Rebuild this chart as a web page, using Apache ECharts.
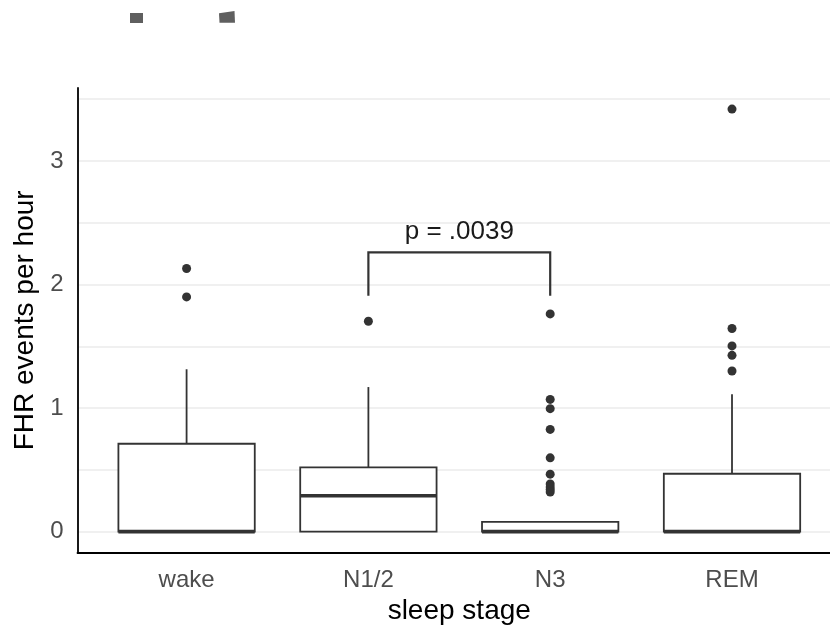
<!DOCTYPE html>
<html><head><meta charset="utf-8">
<script src="https://cdn.jsdelivr.net/npm/echarts@6/dist/echarts.min.js"></script>
<style>html,body{margin:0;padding:0;background:#fff}#c{width:830px;height:632px}</style>
</head><body><div id="c"></div>
<script>
const categories = ['wake', 'N1/2', 'N3', 'REM'];
const whiskerLow = [0, 0, 0, 0];
const q1 = [0, 0, 0, 0];
const median = [0, 0.29, 0, 0];
const q3 = [0.711, 0.519, 0.078, 0.468];
const whiskerHigh = [1.314, 1.17, 0.078, 1.111];
const outliers = [
  [2.13, 1.90],
  [1.703],
  [1.762, 1.07, 0.995, 0.827, 0.597, 0.465, 0.385, 0.36, 0.34, 0.32],
  [3.42, 1.644, 1.503, 1.427, 1.30]
];
const yLabelValues = [0, 1, 2, 3];
const yGridValues = [0, 0.5, 1, 1.5, 2, 2.5, 3, 3.5];
const xLabelValues = [0, 1, 2, 3];
const comparisonFrom = 1, comparisonTo = 2;
const bracketTop = 2.26, bracketBottom = 1.91, labelY = 2.43;
const pLabel = 'p = .0039';

const FONT = '"Liberation Sans", Arial, sans-serif';
const boxData = categories.map((c, i) => [i, whiskerLow[i], q1[i], median[i], q3[i], whiskerHigh[i]]);
const outlierData = [];
outliers.forEach((arr, i) => arr.forEach(v => outlierData.push([i, v])));

const chart = echarts.init(document.getElementById('c'), null, {renderer: 'canvas'});
chart.setOption({
  animation: false,
  backgroundColor: '#fff',
  textStyle: {fontFamily: FONT},
  grid: {left: 77.5, top: 88, right: 0, height: 464.7, containLabel: false},
  graphic: [
    {type: 'rect', shape: {x: 130, y: 13, width: 13, height: 10}, style: {fill: '#5f5f5f'}},
    {type: 'polygon', shape: {points: [[219, 13.3], [234.5, 11], [235, 22.7], [219.5, 22.7]]}, style: {fill: '#5f5f5f'}}
  ],
  xAxis: {
    type: 'value', min: -0.6, max: 3.539,
    name: 'sleep stage', nameLocation: 'middle', nameGap: 45,
    nameTextStyle: {color: '#000', fontSize: 28, fontFamily: FONT,
      padding: [0, 0, 0, 11]},
    axisLine: {show: true, onZero: false, lineStyle: {color: '#000', width: 1.8}},
    axisTick: {show: false, customValues: xLabelValues},
    splitLine: {show: false},
    axisLabel: {customValues: xLabelValues, color: '#4d4d4d', fontSize: 24, margin: 16, fontFamily: FONT,
      formatter: v => categories[Math.round(v)] || ''}
  },
  yAxis: {
    type: 'value', min: -0.171, max: 3.591,
    name: 'FHR events per hour', nameLocation: 'middle', nameGap: 34, nameRotate: 90,
    nameTextStyle: {color: '#000', fontSize: 28, fontFamily: FONT},
    axisLine: {show: true, onZero: false, lineStyle: {color: '#000', width: 1.8}},
    axisTick: {show: false, customValues: yGridValues},
    splitLine: {show: true, lineStyle: {color: '#ebebeb', width: 1.5}},
    axisLabel: {customValues: yLabelValues, color: '#4d4d4d', fontSize: 24, margin: 14, fontFamily: FONT}
  },
  series: [
    {
      type: 'custom', data: boxData, z: 3,
      renderItem: function (params, api) {
        const x = api.value(0);
        const lo = api.coord([x, api.value(1)]);
        const b1 = api.coord([x, api.value(2)]);
        const md = api.coord([x, api.value(3)]);
        const b3 = api.coord([x, api.value(4)]);
        const hi = api.coord([x, api.value(5)]);
        const w = api.size([0.75, 0])[0];
        const st = {stroke: '#333', lineWidth: 1.8, fill: null};
        return {type: 'group', children: [
          {type: 'line', shape: {x1: hi[0], y1: hi[1], x2: b3[0], y2: b3[1]}, style: st},
          {type: 'line', shape: {x1: lo[0], y1: lo[1], x2: b1[0], y2: b1[1]}, style: st},
          {type: 'rect', shape: {x: b1[0] - w / 2, y: b3[1], width: w, height: b1[1] - b3[1]},
            style: {stroke: '#333', lineWidth: 1.8, fill: '#fff'}},
          {type: 'line', shape: {x1: md[0] - w / 2, y1: md[1], x2: md[0] + w / 2, y2: md[1]},
            style: {stroke: '#333', lineWidth: 3.6}}
        ]};
      }
    },
    {
      type: 'scatter', data: outlierData, symbol: 'circle', symbolSize: 9, z: 4,
      itemStyle: {color: '#333', opacity: 1}
    },
    {
      type: 'custom', data: [[comparisonFrom, comparisonTo, bracketTop, bracketBottom, labelY]], z: 5,
      renderItem: function (params, api) {
        const a = api.coord([api.value(0), api.value(3)]);
        const at = api.coord([api.value(0), api.value(2)]);
        const bt = api.coord([api.value(1), api.value(2)]);
        const b = api.coord([api.value(1), api.value(3)]);
        const t = api.coord([(api.value(0) + api.value(1)) / 2, api.value(4)]);
        return {type: 'group', children: [
          {type: 'polyline', shape: {points: [a, at, bt, b]}, style: {stroke: '#333', lineWidth: 2.2, fill: null}},
          {type: 'text', x: t[0], y: t[1], style: {text: pLabel, fill: '#1a1a1a', font: '26px ' + FONT, align: 'center', verticalAlign: 'middle'}}
        ]};
      }
    }
  ]
});
</script></body></html>
